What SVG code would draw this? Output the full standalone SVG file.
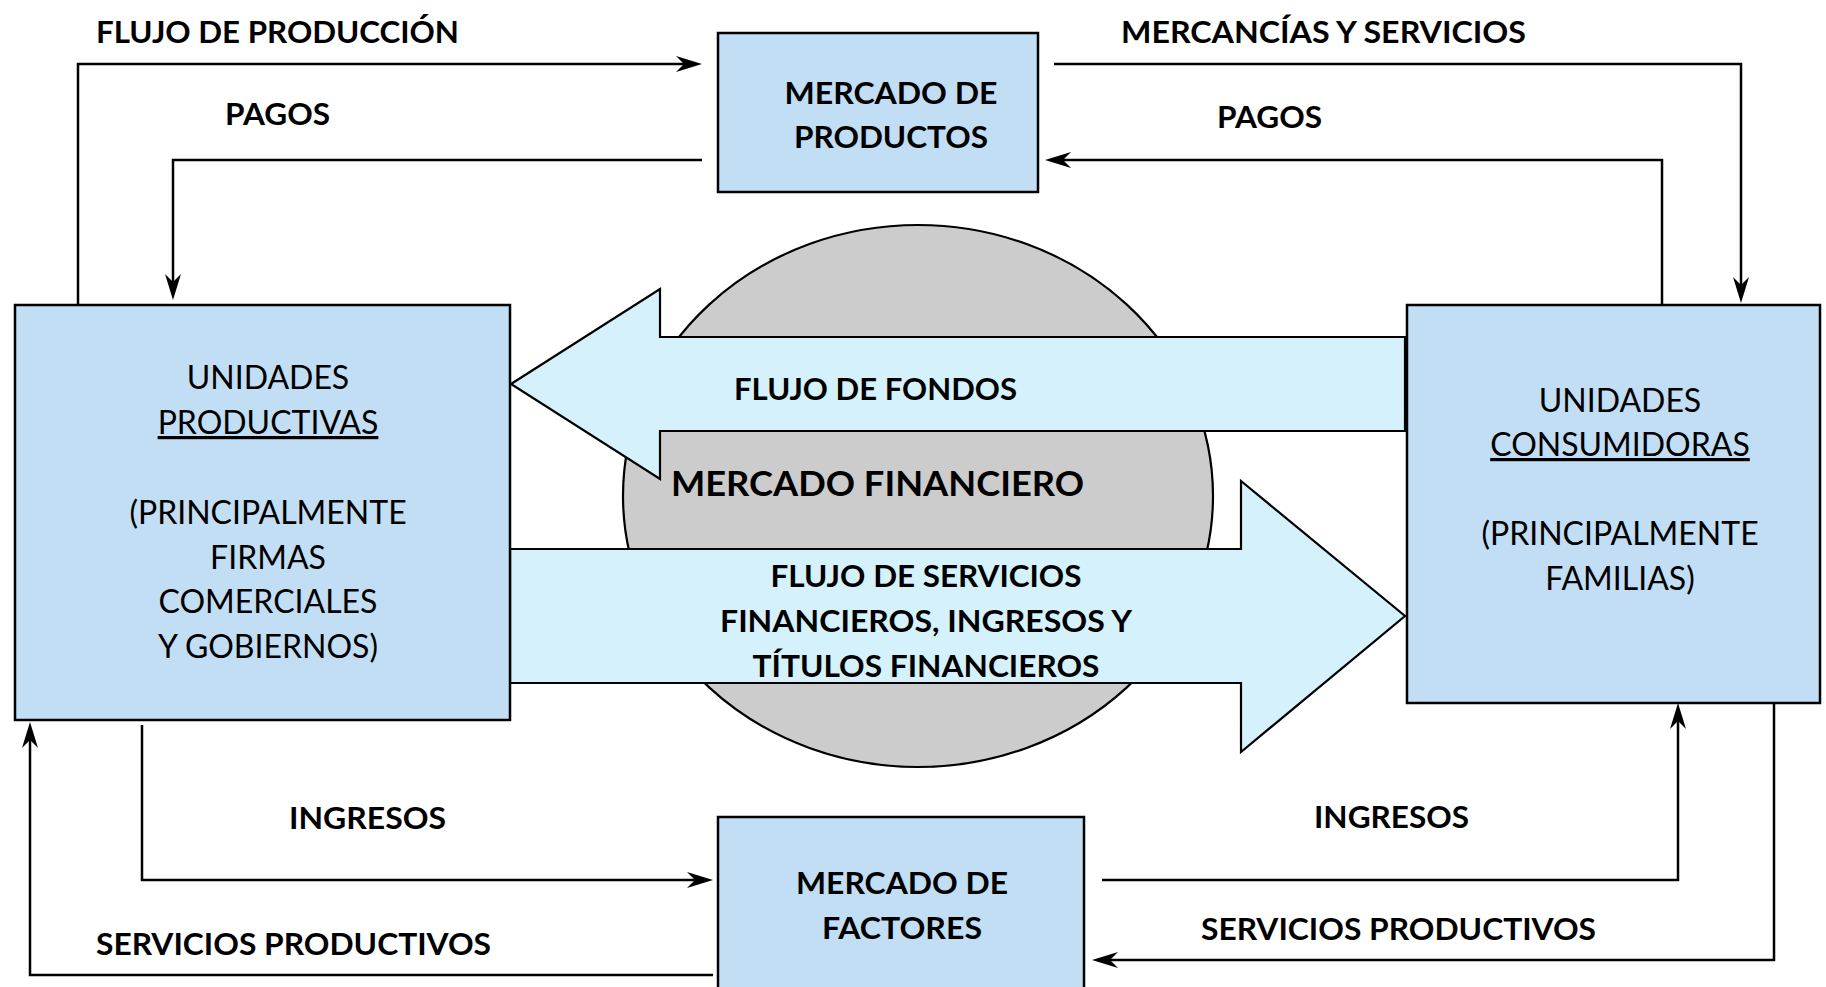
<svg xmlns="http://www.w3.org/2000/svg" width="1826" height="987" viewBox="0 0 1826 987">
<style>
.box{fill:#C2DEF4;stroke:#000;stroke-width:2.5}
.big{fill:#D5F2FC;stroke:#000;stroke-width:2.2}
.conn{fill:none;stroke:#000;stroke-width:2.5;marker-end:url(#ah)}
.lbl{font-family:Lato,"Open Sans","Liberation Sans",sans-serif;font-weight:bold;font-size:31px;fill:#000}
.txt{font-family:Lato,"Open Sans","Liberation Sans",sans-serif;font-size:32px;fill:#000;text-anchor:middle}
.mid{text-anchor:middle}
.ul{text-decoration:underline}
</style>
<defs>
<marker id="ah" markerUnits="userSpaceOnUse" viewBox="0 0 26 16" refX="16" refY="8" markerWidth="26" markerHeight="16" orient="auto">
<path d="M0,0 L26,8 L0,16 L8,8 Z" fill="#000"/>
</marker>
</defs>
<rect width="1826" height="987" fill="#fff"/>

<g id="mercado-financiero">
<ellipse cx="918" cy="496" rx="295" ry="271" fill="#CCCCCC" stroke="#000" stroke-width="2.2"/>
</g>

<g id="flujo-fondos">
<polygon class="big" points="511,384 660,289 660,337 1405,337 1405,431 660,431 660,479"/>
<text class="lbl" x="734" y="400" textLength="283" lengthAdjust="spacingAndGlyphs">FLUJO DE FONDOS</text>
</g>

<g id="mercado-financiero-label">
<text class="lbl" x="671" y="496" style="font-size:34px" textLength="413" lengthAdjust="spacingAndGlyphs">MERCADO FINANCIERO</text>
</g>

<g id="flujo-servicios">
<polygon class="big" points="510,549 1241,549 1241,481 1405,616 1241,752 1241,683 510,683"/>
<text class="lbl mid" x="926" y="587" textLength="311" lengthAdjust="spacingAndGlyphs">FLUJO DE SERVICIOS</text>
<text class="lbl mid" x="926" y="632" textLength="412" lengthAdjust="spacingAndGlyphs">FINANCIEROS, INGRESOS Y</text>
<text class="lbl mid" x="926" y="677" textLength="347" lengthAdjust="spacingAndGlyphs">TÍTULOS FINANCIEROS</text>
</g>

<g id="unidades-productivas">
<rect class="box" x="15" y="305" width="495" height="415"/>
<text class="txt" x="268" y="389">UNIDADES</text>
<text class="txt ul" x="268" y="434">PRODUCTIVAS</text>
<text class="txt" x="268" y="524">(PRINCIPALMENTE</text>
<text class="txt" x="268" y="569">FIRMAS</text>
<text class="txt" x="268" y="613">COMERCIALES</text>
<text class="txt" x="268" y="658">Y GOBIERNOS)</text>
</g>

<g id="unidades-consumidoras">
<rect class="box" x="1407" y="305" width="413" height="398"/>
<text class="txt" x="1620" y="412">UNIDADES</text>
<text class="txt ul" x="1620" y="456">CONSUMIDORAS</text>
<text class="txt" x="1620" y="545">(PRINCIPALMENTE</text>
<text class="txt" x="1620" y="590">FAMILIAS)</text>
</g>

<g id="mercado-productos">
<rect class="box" x="718" y="33" width="320" height="159"/>
<text class="lbl mid" x="891" y="104" textLength="213" lengthAdjust="spacingAndGlyphs">MERCADO DE</text>
<text class="lbl mid" x="891" y="148" textLength="194" lengthAdjust="spacingAndGlyphs">PRODUCTOS</text>
</g>

<g id="mercado-factores">
<rect class="box" x="718" y="817" width="366" height="200"/>
<text class="lbl mid" x="902" y="894" textLength="212" lengthAdjust="spacingAndGlyphs">MERCADO DE</text>
<text class="lbl mid" x="902" y="939" textLength="160" lengthAdjust="spacingAndGlyphs">FACTORES</text>
</g>

<g id="connectors">
<path class="conn" d="M78,305 V64 H692"/>
<path class="conn" d="M702,160 H173 V290"/>
<path class="conn" d="M1054,64 H1741 V293"/>
<path class="conn" d="M1662,305 V160 H1055"/>
<path class="conn" d="M142,725 V880 H703"/>
<path class="conn" d="M713,975 H30 V732"/>
<path class="conn" d="M1102,880 H1678 V713"/>
<path class="conn" d="M1774,703 V960 H1102"/>
<text class="lbl" x="96" y="43" textLength="363" lengthAdjust="spacingAndGlyphs">FLUJO DE PRODUCCIÓN</text>
<text class="lbl" x="225" y="125" textLength="105" lengthAdjust="spacingAndGlyphs">PAGOS</text>
<text class="lbl" x="1121" y="43" textLength="405" lengthAdjust="spacingAndGlyphs">MERCANCÍAS Y SERVICIOS</text>
<text class="lbl" x="1217" y="128" textLength="105" lengthAdjust="spacingAndGlyphs">PAGOS</text>
<text class="lbl" x="289" y="829" textLength="157" lengthAdjust="spacingAndGlyphs">INGRESOS</text>
<text class="lbl" x="96" y="955" textLength="395" lengthAdjust="spacingAndGlyphs">SERVICIOS PRODUCTIVOS</text>
<text class="lbl" x="1314" y="828" textLength="155" lengthAdjust="spacingAndGlyphs">INGRESOS</text>
<text class="lbl" x="1201" y="940" textLength="395" lengthAdjust="spacingAndGlyphs">SERVICIOS PRODUCTIVOS</text>
</g>
</svg>
